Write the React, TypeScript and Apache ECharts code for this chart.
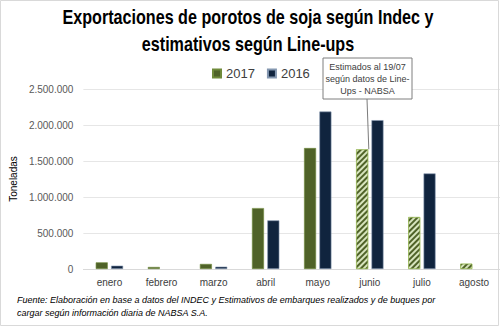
import React, { useEffect, useRef } from "react";
import * as echarts from "echarts";

const months = ["enero", "febrero", "marzo", "abril", "mayo", "junio", "julio", "agosto"];
const values2017 = [92000, 28000, 70000, 846000, 1680000, 1662000, 721000, 74000];
const values2016: (number | null)[] = [46000, null, 32000, 675000, 2187000, 2067000, 1327000, null];
const estimated = [false, false, false, false, false, true, true, true];
const yTicks = [0, 500000, 1000000, 1500000, 2000000, 2500000];
const titleLines = ["Exportaciones de porotos de soja según Indec y", "estimativos según Line-ups"];

const fmt = (v: number) => String(v).replace(/\B(?=(\d{3})+(?!\d))/g, ".");

export default function App() {
  const ref = useRef<HTMLDivElement>(null);
  useEffect(() => {
    document.body.style.margin = "0";
    const chart = echarts.init(ref.current!, null, { renderer: "svg" });
    const stripeDecal = {
      symbol: "rect",
      symbolSize: 1,
      dashArrayX: [1, 0],
      dashArrayY: [2, 2],
      rotation: -Math.PI / 4,
      color: "#4f6228",
    };

    const titleFont = "bold 21px 'Liberation Sans'";
    const cv = document.createElement("canvas");
    const ctx = cv.getContext("2d")!;
    ctx.font = titleFont;
    const w1 = ctx.measureText(titleLines[0]).width || 470;
    const sx = 371 / w1;

    chart.setOption({
      animation: false,
      backgroundColor: "#ffffff",
      legend: {
        left: 207,
        top: 62,
        icon: "rect",
        itemWidth: 8,
        itemHeight: 8,
        itemGap: 12,
        textStyle: { fontFamily: "Liberation Sans", fontSize: 13, color: "#404040" },
        data: ["2017", "2016"],
      },
      grid: { left: 68, right: 0, top: 89, bottom: 58, containLabel: false },
      xAxis: {
        type: "category",
        data: months,
        axisTick: { show: false },
        axisLine: { lineStyle: { color: "#d9d9d9" } },
        axisLabel: { fontFamily: "Liberation Sans", fontSize: 10, color: "#404040", margin: 8 },
      },
      yAxis: {
        type: "value",
        min: 0,
        max: yTicks[yTicks.length - 1],
        interval: 500000,
        name: "Toneladas",
        nameLocation: "middle",
        nameGap: 58,
        nameTextStyle: { fontFamily: "Liberation Sans", fontSize: 10, color: "#000000" },
        axisLabel: {
          fontFamily: "Liberation Sans",
          fontSize: 10,
          color: "#595959",
          margin: 10,
          formatter: (v: number) => fmt(v),
        },
        splitLine: { lineStyle: { color: "#e6e6e6" } },
      },
      series: [
        {
          name: "2017",
          type: "bar",
          barWidth: 12,
          barGap: "28%",
          itemStyle: { color: "#4f6228", borderColor: "#6f8a3a", borderWidth: 0.6 },
          data: values2017.map((v, i) =>
            estimated[i]
              ? { value: v, itemStyle: { color: "#d7e4bd", decal: stripeDecal, borderColor: "#9bbb59", borderWidth: 0.6 } }
              : v
          ),
        },
        {
          name: "2016",
          type: "bar",
          barWidth: 12,
          itemStyle: { color: "#10243e", borderColor: "#8497b0", borderWidth: 0.6 },
          data: values2016,
        },
      ],
    });

    const idx = estimated.indexOf(true);
    const tip = chart.convertToPixel({ seriesIndex: 0 }, [idx, values2017[idx]]) as number[];
    const boxX = 323;
    const boxY = 58;
    const boxW = 89;
    const boxH = 41;
    chart.setOption({
      graphic: [
        {
          type: "rect",
          shape: { x: 0.5, y: 0.5, width: 498, height: 325 },
          style: { fill: "none", stroke: "#d9d9d9", lineWidth: 1 },
          silent: true,
        },
        {
          type: "text",
          x: 248,
          y: 17,
          scaleX: sx,
          style: {
            text: titleLines[0],
            align: "center",
            verticalAlign: "middle",
            font: titleFont,
            fill: "#000000",
          },
        },
        {
          type: "text",
          x: 248,
          y: 44,
          scaleX: sx,
          style: {
            text: titleLines[1],
            align: "center",
            verticalAlign: "middle",
            font: titleFont,
            fill: "#000000",
          },
        },
        {
          type: "line",
          shape: { x1: boxX + 44, y1: boxY + boxH, x2: tip[0] - 1, y2: tip[1] },
          style: { stroke: "#595959", lineWidth: 0.8 },
        },
        {
          type: "rect",
          shape: { x: boxX, y: boxY, width: boxW, height: boxH },
          style: { fill: "#ffffff", stroke: "#7f7f7f", lineWidth: 1 },
        },
        {
          type: "text",
          x: boxX + boxW / 2,
          y: boxY + 3,
          style: {
            text: "Estimados al 19/07\nsegún datos de Line-\nUps - NABSA",
            align: "center",
            verticalAlign: "top",
            fontFamily: "Liberation Sans",
            fontSize: 9,
            lineHeight: 12,
            fill: "#404040",
          },
        },
        {
          type: "text",
          left: 17,
          top: 293,
          style: {
            text: "Fuente: Elaboración en base a datos del INDEC y Estimativos de embarques realizados y de buques por\ncargar según información diaria de NABSA S.A.",
            fontFamily: "Liberation Sans",
            fontStyle: "italic",
            fontSize: 9,
            lineHeight: 13,
            fill: "#000000",
          },
        },
      ],
    });
    return () => chart.dispose();
  }, []);
  return <div ref={ref} style={{ width: 500, height: 327 }} />;
}
